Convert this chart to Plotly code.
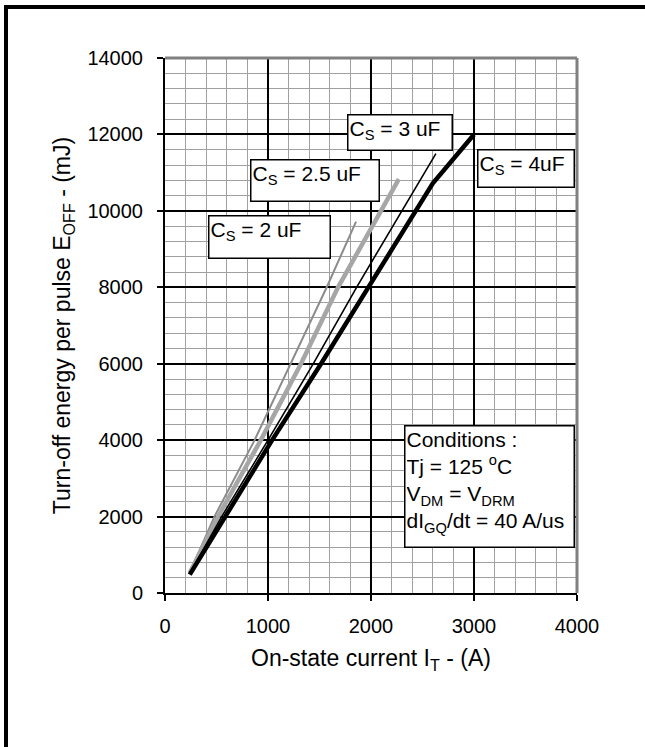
import plotly.graph_objects as go

# ---- data ----
cs2_x = [240, 480, 870, 1220, 1570, 1855]
cs2_y = [540, 2000, 4000, 6000, 8000, 9720]

cs25_x = [240, 515, 930, 1320, 1680, 2270]
cs25_y = [520, 2000, 4000, 6000, 8000, 10830]

cs3_x = [240, 550, 1000, 1440, 1860, 2630]
cs3_y = [500, 2000, 4000, 6000, 8000, 11500]

cs4_x = [240, 585, 1040, 1515, 1975, 2600, 3000]
cs4_y = [480, 2000, 4000, 6000, 8000, 10720, 12000]

x_ticks = [0, 1000, 2000, 3000, 4000]
y_ticks = [0, 2000, 4000, 6000, 8000, 10000, 12000, 14000]

FONT = "Liberation Sans, Arial, sans-serif"
W, H = 645, 747
L, R, T, B = 165, 68, 58, 154
PW, PH = W - L - R, H - T - B


def px(xp):
    return (xp - L) / PW


def py(yp):
    return (H - B - yp) / PH


fig = go.Figure()
fig.add_trace(go.Scatter(x=cs2_x, y=cs2_y, mode="lines",
                         line=dict(color="#8c8c8c", width=2), showlegend=False))
fig.add_trace(go.Scatter(x=cs25_x, y=cs25_y, mode="lines",
                         line=dict(color="#a6a6a6", width=4.5), showlegend=False))
fig.add_trace(go.Scatter(x=cs3_x, y=cs3_y, mode="lines",
                         line=dict(color="black", width=1.6), showlegend=False))
fig.add_trace(go.Scatter(x=cs4_x, y=cs4_y, mode="lines",
                         line=dict(color="black", width=4.5), showlegend=False))

axis_common = dict(
    showgrid=True, gridcolor="black", gridwidth=2,
    showline=True, linecolor="black", linewidth=2,
    ticks="outside", ticklen=6, tickwidth=1.5, tickcolor="black",
    zeroline=False,
    tickfont=dict(family=FONT, size=20, color="black"),
)

fig.update_xaxes(range=[0, 4000], tickvals=x_ticks,
                 ticktext=[str(v) for v in x_ticks],
                 minor=dict(dtick=200, showgrid=True, gridcolor="#a0a0a0", gridwidth=1),
                 ticklabelstandoff=8,
                 title=dict(text="On-state current I<sub>T</sub> - (A)",
                            font=dict(family=FONT, size=23, color="black"),
                            standoff=14),
                 **axis_common)
fig.update_yaxes(range=[0, 14000], tickvals=y_ticks,
                 ticktext=[str(v) for v in y_ticks],
                 minor=dict(dtick=400, showgrid=True, gridcolor="#a0a0a0", gridwidth=1),
                 ticklabelstandoff=10,
                 title=dict(text="Turn-off energy per pulse E<sub>OFF</sub> - (mJ)",
                            font=dict(family=FONT, size=23, color="black"),
                            standoff=10),
                 **axis_common)

shapes = [
    # grey top / right frame of plot area
    dict(type="line", xref="paper", yref="paper", x0=0, x1=1, y0=1, y1=1,
         line=dict(color="#808080", width=3), layer="above"),
    dict(type="line", xref="paper", yref="paper", x0=1, x1=1, y0=0, y1=1,
         line=dict(color="#808080", width=3), layer="above"),
    # page border (left and top)
    dict(type="line", xref="paper", yref="paper", x0=px(6), x1=px(6), y0=py(747), y1=py(5),
         line=dict(color="black", width=4), layer="above"),
    dict(type="line", xref="paper", yref="paper", x0=px(4), x1=px(645), y0=py(7), y1=py(7),
         line=dict(color="black", width=4), layer="above"),
]

annotations = []


def box(text, x0, y0, x1, y1):
    annotations.append(dict(
        text=text, xref="paper", yref="paper", x=px(x0), y=py(y0),
        xanchor="left", yanchor="top", showarrow=False,
        width=x1 - x0 - 6, height=y1 - y0 - 6, align="left", valign="top",
        bgcolor="white", bordercolor="black", borderwidth=1.5, borderpad=1,
        font=dict(family=FONT, size=21, color="black"),
    ))


box("C<sub>S</sub> = 2 uF", 208, 215, 332, 260)
box("C<sub>S</sub> = 2.5 uF", 250, 159, 381, 203)
box("C<sub>S</sub> = 3 uF", 347, 114, 454, 152)
box("C<sub>S</sub> = 4uF", 477, 149, 576, 189)
box("Conditions :<br>Tj = 125 <sup>o</sup>C<br>V<sub>DM</sub> = V<sub>DRM</sub><br>"
    "dI<sub>GQ</sub>/dt = 40 A/us", 404, 425, 576, 549)

fig.update_layout(
    width=W, height=H,
    margin=dict(l=L, r=R, t=T, b=B, autoexpand=False),
    paper_bgcolor="white", plot_bgcolor="white",
    shapes=shapes, annotations=annotations,
    font=dict(family=FONT, color="black"),
)

fig.write_html("out.html")
